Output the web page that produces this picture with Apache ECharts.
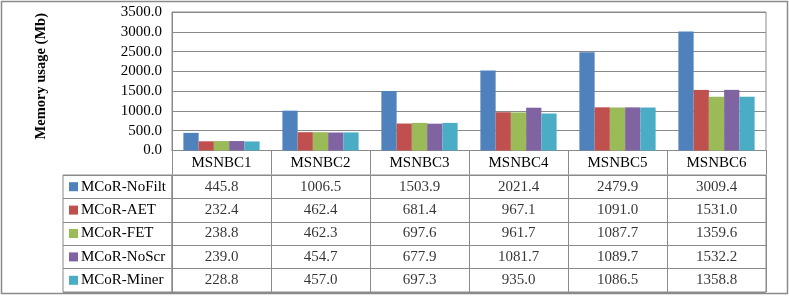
<!DOCTYPE html>
<html><head><meta charset="utf-8">
<script src="https://cdn.jsdelivr.net/npm/echarts@6/dist/echarts.min.js"></script>
<style>html,body{margin:0;padding:0;background:#fff}#c{width:789px;height:296px}</style>
</head><body><div id="c"></div>
<script>
var categories = ['MSNBC1', 'MSNBC2', 'MSNBC3', 'MSNBC4', 'MSNBC5', 'MSNBC6'];
var seriesNames = ['MCoR-NoFilt', 'MCoR-AET', 'MCoR-FET', 'MCoR-NoScr', 'MCoR-Miner'];
var noFilt = [445.8, 1006.5, 1503.9, 2021.4, 2479.9, 3009.4];
var aet = [232.4, 462.4, 681.4, 967.1, 1091.0, 1531.0];
var fet = [238.8, 462.3, 697.6, 961.7, 1087.7, 1359.6];
var noScr = [239.0, 454.7, 677.9, 1081.7, 1089.7, 1532.2];
var miner = [228.8, 457.0, 697.3, 935.0, 1086.5, 1358.8];
var yMin = 0, yMax = 3500, yStep = 500;
var yTitle = 'Memory usage (Mb)';

var colors = ['#4F81BD', '#C0504D', '#9BBB59', '#8064A2', '#4BACC6'];
var allValues = [noFilt, aet, fet, noScr, miner];
var FONT = "'Liberation Serif', 'Times New Roman', serif";
var GRAY = '#8a8a8a';

var chart = echarts.init(document.getElementById('c'));

var barSeries = seriesNames.map(function (n, i) {
  return {
    name: n, type: 'bar', xAxisIndex: 0, yAxisIndex: 0,
    data: allValues[i], barGap: '0%', barCategoryGap: '23%',
    itemStyle: { color: colors[i] }, silent: true
  };
});

var tableData = [];
allValues.forEach(function (arr, i) {
  arr.forEach(function (v, j) { tableData.push([j, i, v]); });
});

var rich = { t: { fontFamily: FONT, fontSize: 15, color: '#000', padding: [0, 0, 0, 3] } };
colors.forEach(function (c, i) {
  rich['s' + i] = { width: 9, height: 9, backgroundColor: c };
});

chart.setOption({
  animation: false,
  grid: [
    { left: 172, right: 23, top: 12, height: 138.5, show: true, borderColor: GRAY, borderWidth: 1 },
    { left: 172, right: 23, top: 175, height: 117, show: true, borderColor: GRAY, borderWidth: 1 },
    { left: 63, width: 109, top: 175, height: 117, show: true, borderColor: GRAY, borderWidth: 1 }
  ],
  xAxis: [
    { gridIndex: 0, type: 'category', data: categories,
      axisLine: { lineStyle: { color: GRAY } },
      axisTick: { show: true, length: 24, lineStyle: { color: GRAY } },
      axisLabel: { fontFamily: FONT, fontSize: 15, color: '#000', margin: 5 } },
    { gridIndex: 1, type: 'category', data: categories,
      axisLine: { show: false }, axisTick: { show: false }, axisLabel: { show: false },
      splitLine: { show: true, lineStyle: { color: GRAY } } },
    { gridIndex: 2, type: 'value', min: 0, max: 1, show: false }
  ],
  yAxis: [
    { gridIndex: 0, type: 'value', min: yMin, max: yMax, interval: yStep,
      name: yTitle, nameLocation: 'middle', nameGap: 123,
      nameTextStyle: { fontFamily: FONT, fontSize: 14.5, fontWeight: 'bold', color: '#000', padding: [0, 0, 0, 10] },
      axisLine: { show: true, lineStyle: { color: GRAY } },
      axisTick: { show: false },
      axisLabel: { fontFamily: FONT, fontSize: 15, color: '#000', margin: 10,
        formatter: function (v) { return v.toFixed(1); } },
      splitLine: { show: true, lineStyle: { color: GRAY } } },
    { gridIndex: 1, type: 'category', data: seriesNames, inverse: true,
      axisLine: { show: false }, axisTick: { show: false }, axisLabel: { show: false },
      splitLine: { show: true, lineStyle: { color: GRAY } } },
    { gridIndex: 2, type: 'category', data: seriesNames, inverse: true,
      axisLine: { show: false }, axisTick: { show: false },
      axisLabel: { inside: true, margin: 6, align: 'left',
        formatter: function (v, idx) { return '{s' + idx + '|}{t|' + v + '}'; },
        rich: rich },
      splitLine: { show: true, lineStyle: { color: GRAY } } }
  ],
  graphic: [{
    type: 'rect', shape: { x: 1.5, y: 1.5, width: 786, height: 292 },
    style: { fill: 'none', stroke: GRAY, lineWidth: 1.5 }, silent: true
  }],
  series: barSeries.concat([{
    type: 'scatter', xAxisIndex: 1, yAxisIndex: 1, symbolSize: 0, silent: true,
    data: tableData,
    label: { show: true, position: 'inside', fontFamily: FONT, fontSize: 15, color: '#000',
      formatter: function (p) { return p.value[2].toFixed(1); } }
  }])
});
</script></body></html>
